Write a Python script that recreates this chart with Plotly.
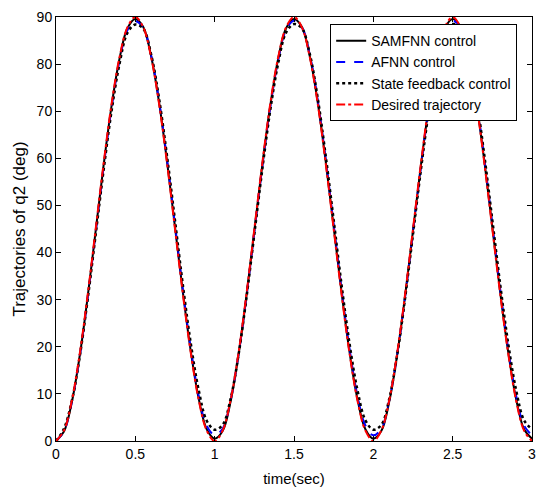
import plotly.graph_objects as go

# time (sec), step 0.05
t = [round(i * 0.05, 2) for i in range(61)]

desired = [0, 2.2, 8.6, 18.6, 31.1, 45.0, 58.9, 71.5, 81.4, 87.8, 90.0, 87.8, 81.4, 71.5, 58.9, 45.0, 31.1, 18.6, 8.6, 2.2,
           0, 2.2, 8.6, 18.6, 31.1, 45.0, 58.9, 71.5, 81.4, 87.8, 90.0, 87.8, 81.4, 71.5, 58.9, 45.0, 31.1, 18.6, 8.6, 2.2,
           0, 2.2, 8.6, 18.6, 31.1, 45.0, 58.9, 71.5, 81.4, 87.8, 90.0, 87.8, 81.4, 71.5, 58.9, 45.0, 31.1, 18.6, 8.6, 2.2,
           0]
samfnn = [0, 2.0, 8.3, 18.2, 30.7, 44.6, 58.5, 71.1, 81.1, 87.6, 89.6, 87.9, 81.6, 71.8, 59.3, 45.4, 31.5, 18.9, 8.9, 2.5,
          0.5, 2.1, 8.3, 18.2, 30.7, 44.6, 58.5, 71.1, 81.1, 87.6, 89.6, 87.9, 81.6, 71.8, 59.3, 45.4, 31.5, 18.9, 8.9, 2.5,
          0.5, 2.1, 8.3, 18.2, 30.7, 44.6, 58.5, 71.1, 81.1, 87.6, 89.6, 87.9, 81.6, 71.8, 59.3, 45.4, 31.5, 18.9, 8.9, 2.5,
          0.5]
afnn = [0, 2.1, 8.3, 18.1, 30.5, 44.3, 58.1, 70.7, 80.7, 87.2, 89.1, 87.7, 81.8, 72.1, 59.7, 45.9, 32.0, 19.5, 9.5, 3.2,
        1.3, 2.6, 8.6, 18.3, 30.6, 44.4, 58.2, 70.8, 80.8, 87.3, 89.2, 87.8, 81.9, 72.2, 59.8, 46.0, 32.1, 19.6, 9.6, 3.3,
        1.2, 2.6, 8.6, 18.3, 30.6, 44.4, 58.2, 70.8, 80.8, 87.3, 89.2, 87.8, 81.9, 72.2, 59.8, 46.0, 32.1, 19.6, 9.6, 3.3,
        1.2]
state_fb = [0, 2.6, 8.6, 18.0, 30.2, 43.8, 57.5, 70.0, 80.0, 86.6, 88.4, 87.5, 82.0, 72.6, 60.4, 46.8, 33.0, 20.6, 10.7, 4.3,
            2.4, 3.4, 8.9, 18.2, 30.3, 43.9, 57.6, 70.1, 80.1, 86.7, 88.5, 87.6, 82.1, 72.7, 60.5, 46.9, 33.1, 20.7, 10.8, 4.4,
            2.4, 3.4, 8.9, 18.2, 30.3, 43.9, 57.6, 70.1, 80.1, 86.7, 88.5, 87.6, 82.1, 72.7, 60.5, 46.9, 33.1, 20.7, 10.8, 4.4,
            2.5]

x_ticks = [0, 0.5, 1, 1.5, 2, 2.5, 3]
y_ticks = [0, 10, 20, 30, 40, 50, 60, 70, 80, 90]

fig = go.Figure()
fig.add_trace(go.Scatter(x=t, y=samfnn, mode="lines", name="SAMFNN control",
                         line=dict(color="black", width=2, shape="spline")))
fig.add_trace(go.Scatter(x=t, y=afnn, mode="lines", name="AFNN control",
                         line=dict(color="blue", width=2, dash="dash", shape="spline")))
fig.add_trace(go.Scatter(x=t, y=state_fb, mode="lines", name="State feedback control",
                         line=dict(color="black", width=2.5, dash="dot", shape="spline")))
fig.add_trace(go.Scatter(x=t, y=desired, mode="lines", name="Desired trajectory",
                         line=dict(color="red", width=2, dash="dashdot", shape="spline")))

axis_common = dict(showline=True, mirror="ticks", linecolor="black", linewidth=1,
                   ticks="inside", ticklen=5, tickcolor="black", showgrid=False,
                   zeroline=False, automargin=False, ticklabeloverflow="allow",
                   tickfont=dict(size=14, color="black"))

fig.update_layout(
    width=536, height=487,
    margin=dict(l=56, r=4, t=17, b=46),
    paper_bgcolor="white", plot_bgcolor="white",
    font=dict(family="Liberation Sans, Arial, sans-serif", size=14, color="black"),
    xaxis=dict(range=[0, 3], tickvals=x_ticks, ticktext=[str(v) for v in x_ticks],
               title=dict(text="time(sec)", standoff=12, font=dict(size=15)), **axis_common),
    yaxis=dict(range=[0, 90], tickvals=y_ticks,
               title=dict(text="Trajectories of q2 (deg)", standoff=6, font=dict(size=17)), **axis_common),
    legend=dict(x=0.576, y=0.983, xanchor="left", yanchor="top",
                bgcolor="white", bordercolor="black", borderwidth=1,
                font=dict(size=14), tracegroupgap=0),
    showlegend=True,
)

fig.write_html("out.html", config={"displayModeBar": False},
               post_script="document.body.style.margin='0';")
